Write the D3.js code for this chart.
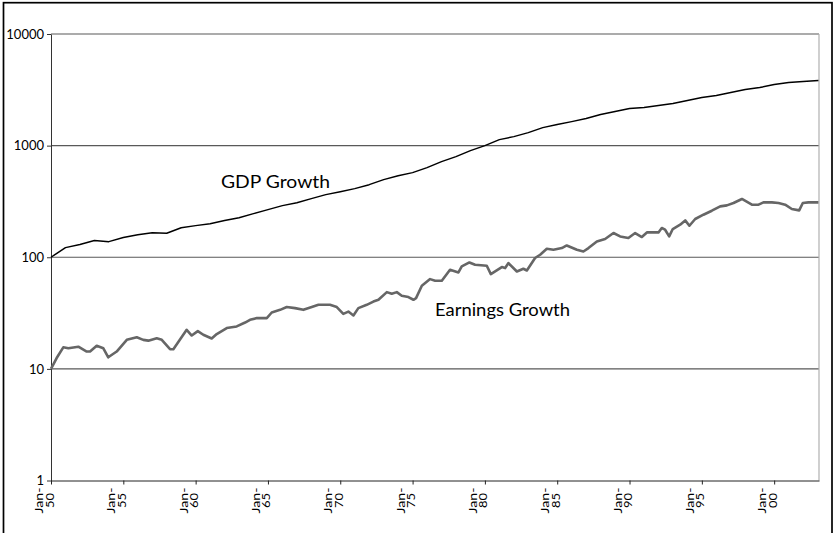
<html>
<head>
  <script src="https://d3js.org/d3.v7.min.js"></script>
  <style>
    body { margin: 0; background: white; }
    text { font-family: Lato, "Open Sans", sans-serif; }
  </style>
</head>
<body>
  <svg id="chart" width="833" height="533" style="background: white;"></svg>
  <script>
    // GDP growth index (1950 = 100), read roughly once a year
    const gdpYears = [1950, 1951, 1952, 1953, 1954, 1955, 1956, 1957, 1958, 1959,
      1960, 1961, 1962, 1963, 1964, 1965, 1966, 1967, 1968, 1969,
      1970, 1971, 1972, 1973, 1974, 1975, 1976, 1977, 1978, 1979,
      1980, 1981, 1982, 1983, 1984, 1985, 1986, 1987, 1988, 1989,
      1990, 1991, 1992, 1993, 1994, 1995, 1996, 1997, 1998, 1999,
      2000, 2001, 2002, 2003.06];
    const gdpValues = [100, 122, 130, 141, 138, 150, 159, 166, 164, 184,
      192, 200, 213, 226, 246, 267, 290, 308, 335, 364,
      387, 412, 447, 496, 538, 573, 635, 719, 797, 902,
      1000, 1132, 1204, 1308, 1450, 1543, 1641, 1747, 1897, 2018,
      2147, 2192, 2284, 2381, 2533, 2695, 2809, 2988, 3178, 3313,
      3525, 3673, 3750, 3828];

    // Earnings growth index (1950 = 10)
    const earnYears = [1950.00, 1950.39, 1950.85, 1951.20, 1951.89, 1952.47, 1952.70, 1953.16, 1953.62, 1953.96,
      1954.54, 1955.24, 1955.93, 1956.38, 1956.73, 1957.31, 1957.66, 1958.23, 1958.46, 1959.38,
      1959.73, 1960.15, 1960.53, 1961.11, 1961.46, 1962.15, 1962.84, 1963.42, 1963.76, 1964.23,
      1964.92, 1965.26, 1965.84, 1966.30, 1966.87, 1967.45, 1968.03, 1968.49, 1969.29, 1969.76,
      1970.21, 1970.56, 1970.91, 1971.25, 1971.83, 1972.29, 1972.64, 1973.22, 1973.56, 1973.91,
      1974.25, 1974.71, 1975.06, 1975.24, 1975.64, 1976.21, 1976.56, 1977.02, 1977.59, 1978.17,
      1978.40, 1978.93, 1979.32, 1980.13, 1980.41, 1981.17, 1981.40, 1981.63, 1982.21, 1982.66,
      1982.90, 1983.47, 1983.82, 1984.28, 1984.74, 1985.32, 1985.66, 1986.36, 1986.81, 1987.16,
      1987.74, 1988.31, 1988.89, 1989.35, 1989.92, 1990.39, 1990.85, 1991.20, 1992.00, 1992.23,
      1992.46, 1992.74, 1992.99, 1993.50, 1993.85, 1994.14, 1994.54, 1995.11, 1995.69, 1996.27,
      1996.73, 1997.19, 1997.77, 1998.46, 1998.92, 1999.26, 1999.84, 2000.30, 2000.76, 2001.22,
      2001.73, 2001.98, 2002.37, 2003.06];
    const earnValues = [10.0, 12.5, 15.6, 15.3, 15.8, 14.3, 14.3, 16.1, 15.3, 12.7,
      14.3, 18.2, 19.2, 18.2, 17.9, 18.8, 18.2, 15.0, 15.0, 22.4,
      19.9, 21.8, 20.2, 18.7, 20.5, 23.2, 24.0, 26.0, 27.5, 28.5,
      28.5, 32.0, 33.8, 35.8, 35.0, 33.8, 35.8, 37.5, 37.5, 35.8,
      31.1, 32.6, 30.1, 35.0, 37.5, 40.1, 41.6, 48.7, 47.1, 48.7,
      45.2, 44.0, 41.6, 43.0, 55.5, 63.7, 61.5, 61.5, 77.3, 73.1,
      82.7, 89.8, 85.6, 83.9, 70.7, 81.7, 80.0, 88.7, 74.6, 78.9,
      76.1, 98.4, 105.3, 119.2, 116.8, 120.9, 127.6, 116.8, 112.7, 120.9,
      138.6, 145.6, 164.8, 153.7, 148.7, 164.8, 151.8, 166.9, 166.9, 182.8,
      176.5, 153.7, 179.0, 195.6, 213.8, 191.6, 220.1, 240.5, 261.2, 285.5,
      291.4, 306.2, 332.6, 295.7, 295.7, 310.1, 310.1, 306.2, 295.7, 270.6,
      262.9, 306.2, 310.1, 310.1];

    const yTicks = [1, 10, 100, 1000, 10000];
    const xTicks = [1950, 1955, 1960, 1965, 1970, 1975, 1980, 1985, 1990, 1995, 2000];
    const xTickLabels = ["50", "55", "60", "65", "70", "75", "80", "85", "90", "95", "00"];

    const svg = d3.select("svg#chart");
    const plotLeft = 51, plotRight = 819, plotTop = 34, plotBottom = 480.5;

    const x = d3.scaleLinear().domain([1950, 2003.1]).range([plotLeft, plotRight]);
    const y = d3.scaleLog().domain([1, 10000]).range([plotBottom, plotTop]);

    // outer frame
    svg.append("rect")
      .attr("x", 3.5).attr("y", 2.7)
      .attr("width", 828.5).attr("height", 540)
      .attr("fill", "none")
      .attr("stroke", "black")
      .attr("stroke-width", 1.7);

    // gridlines
    yTicks.slice(1).forEach(t => {
      svg.append("line")
        .attr("x1", plotLeft).attr("x2", plotRight)
        .attr("y1", y(t)).attr("y2", y(t))
        .style("stroke", "#595959")
        .style("stroke-width", 1.1);
    });

    // right plot border
    svg.append("line")
      .attr("x1", plotRight).attr("x2", plotRight)
      .attr("y1", plotTop).attr("y2", plotBottom)
      .style("stroke", "#b0b0b0")
      .style("stroke-width", 1.2);

    // y axis
    const yAxis = d3.axisLeft(y)
      .tickValues(yTicks)
      .tickFormat(d3.format("d"))
      .tickSize(4)
      .tickSizeOuter(0);
    const gy = svg.append("g")
      .attr("transform", `translate(${plotLeft},0)`)
      .call(yAxis);
    gy.select(".domain").style("stroke", "#333");
    gy.selectAll(".tick line").style("stroke", "#333");
    gy.selectAll(".tick text")
      .attr("x", -7)
      .style("font-family", "Lato, sans-serif")
      .style("font-size", "13px")
      .style("fill", "black");

    // x axis
    const xAxis = d3.axisBottom(x)
      .tickValues(xTicks)
      .tickFormat("")
      .tickSize(4)
      .tickSizeOuter(0);
    const gx = svg.append("g")
      .attr("transform", `translate(0,${plotBottom})`)
      .call(xAxis);
    gx.select(".domain").style("stroke", "#222");
    gx.selectAll(".tick line").style("stroke", "#222");

    xTicks.forEach((t, i) => {
      const lbl = svg.append("g")
        .attr("transform", `translate(${x(t) - 8},${plotBottom + 20}) rotate(-90)`)
        .style("font-family", "Lato, sans-serif")
        .style("font-size", "11px")
        .style("fill", "black");
      lbl.append("text")
        .attr("x", -13).attr("y", 0)
        .attr("textLength", 26)
        .attr("lengthAdjust", "spacingAndGlyphs")
        .text("Jan-");
      lbl.append("text")
        .attr("x", -7.5).attr("y", 10.5)
        .attr("textLength", 15)
        .attr("lengthAdjust", "spacingAndGlyphs")
        .text(xTickLabels[i]);
    });

    const line = d3.line()
      .x(d => x(d[0]))
      .y(d => y(d[1]));

    svg.append("path")
      .datum(d3.zip(earnYears, earnValues))
      .attr("d", line)
      .attr("fill", "none")
      .attr("stroke", "#666666")
      .attr("stroke-width", 2.6)
      .attr("stroke-linejoin", "round");

    svg.append("path")
      .datum(d3.zip(gdpYears, gdpValues))
      .attr("d", line)
      .attr("fill", "none")
      .attr("stroke", "black")
      .attr("stroke-width", 1.5)
      .attr("stroke-linejoin", "round");

    // series labels
    svg.append("text")
      .attr("x", 221).attr("y", 188)
      .attr("textLength", 109)
      .attr("lengthAdjust", "spacingAndGlyphs")
      .style("font-size", "17px")
      .text("GDP Growth");
    svg.append("text")
      .attr("x", 435).attr("y", 316)
      .attr("textLength", 135)
      .attr("lengthAdjust", "spacingAndGlyphs")
      .style("font-size", "17px")
      .text("Earnings Growth");
  </script>
</body>
</html>
